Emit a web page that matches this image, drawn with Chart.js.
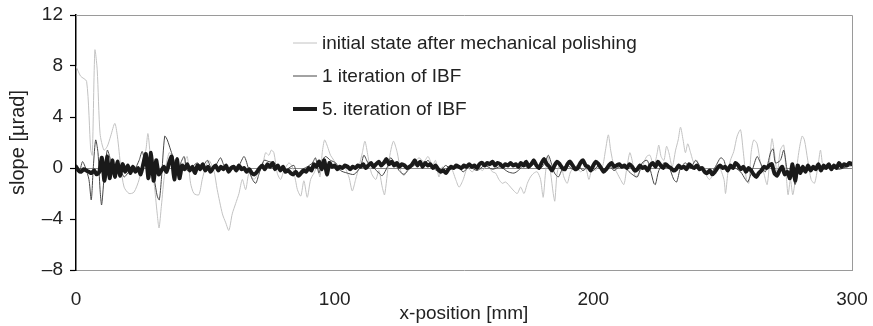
<!DOCTYPE html>
<html>
<head>
<meta charset="utf-8">
<script src="https://cdn.jsdelivr.net/npm/chart.js@4.4.1/dist/chart.umd.min.js"></script>
<style>
    html, body { margin: 0; padding: 0; background: #fff; }
    canvas { display: block; }
</style>
</head>
<body>
<canvas id="slopeChart" width="873" height="326"></canvas>
<script>
// initial state after mechanical polishing (x in mm, slope in µrad)
const initialX = [0, 1.8, 4.1, 5.7, 6.3, 7.3, 8.2, 9.3, 10.8, 12.1, 13.4, 15, 16, 17.3, 18.6, 20.5, 22.4, 24.4, 25.6, 27, 27.8, 28.9, 30.2, 31.4, 32.1, 33, 34.3, 36, 37.2, 38.5, 40.5, 41.8,
    43, 44.3, 45.6, 47.5, 48.8, 50.1, 51.4, 53.3, 54.6, 56.6, 57.9, 59.1, 60.4, 61.7, 63, 64.3, 65.6, 66.9, 68.8, 70.4, 72, 73.3, 74.6, 75.5, 76.5, 77.8, 79.1, 80.4, 82.3, 83.6, 84.9,
    85.6, 86.9, 88.1, 89.4, 90.7, 92, 93.3, 94.3, 95.2, 96.1, 97.2, 98.4, 99.7, 101.7, 103.6, 105.5, 106.8, 108.1, 109.4, 110.7, 111.7, 112.9, 114.2, 115.9, 117.1, 118.4, 119.3, 121, 122.7, 124.2, 125.5, 126.8,
    128.7, 130.7, 132.6, 134.5, 136.1, 137.8, 139, 140.3, 141.6, 142.9, 144.8, 146.8, 148.1, 149.7, 151.3, 153.2, 155.2, 157.1, 159, 161, 162.2, 163.5, 164.8, 166.1, 168, 169.3,
    170.6, 171.9, 173.2, 174.5, 175.7, 177, 178.3, 179.6, 180.6, 181.5, 182.4, 183.5, 184.5, 185.1, 186, 187.3, 188.6, 189.9, 191.2, 193.1, 195.1, 197, 198.3, 199.6, 200.9, 202.2, 203.5, 204.7, 205.8, 206.7, 208, 209.2, 210.5, 211.8,
    212.8, 214.1, 215, 216.3, 217.6, 218.9, 220.6, 221.9, 223.4, 224.7, 225.3, 226.2, 227.3, 228.3, 229.2, 230.5, 231.8, 232.8, 233.7, 234.7, 235.6, 236.5, 237.6, 238.9, 240.1, 241.4, 242.7, 244, 245, 246.6, 248.5, 250.5, 251.1, 252, 253, 254.3,
    255.6, 256.9, 257.9, 259.2, 260.1, 261, 262, 263.3, 264.6, 265.9, 267.2, 268.5, 269.1, 270, 271.1, 272.3, 273.6, 274.7, 275.3, 276.2, 277.1, 278.1, 279.4, 280.7, 281.6, 282.9, 284.2, 285.5, 286.8, 287.8, 288.5];
const initialY = [8.0, 7.2, 6.8, 1.4, 1.0, 9.25, 7.7, 2.7, 1.4, 1.7, 2.5, 3.5, 2.5, 0.1, -1.5, -2.0, -1.9, -0.9, 0.4, 1.4, 2.7, 0.6, -1.2, -3.6, -4.7, -3.0, -0.4, 1.2, 0.9, -0.4, -0.7, 0.4,
    0.9, -1.2, -2.0, -2.1, -0.9, 0.1, 0.6, -0.2, -1.7, -3.6, -4.3, -4.9, -3.6, -2.8, -2.0, -0.9, -1.7, -0.4, -0.9, -0.4, 0.1, 1.2, 1.0, 1.4, 1.2, -0.4, -0.9, -0.2, 0.4, 0.1, -1.0,
    -1.7, -2.2, -1.0, -2.3, -0.9, -0.4, 0.1, -0.7, 1.2, 2.2, 1.7, 1.0, 0.6, -0.2, 0.1, -0.7, -1.8, -0.9, 0.1, 1.2, 2.1, 0.9, -0.4, -0.9, -0.2, -1.5, -2.1, 0.6, 2.1, 1.2, -0.2, -0.6,
    0.1, 0.4, 0.8, 0.5, 0.9, 0.2, 0.6, -0.7, 0.1, -0.3, 0.1, -0.9, -1.5, -0.9, 0, -0.3, 0.1, -0.2, 0.2, -0.3, -0.4, -0.9, -1.2, -1.1, -1.5, -1.8,
    -2.0, -1.5, -2.0, -1.2, -0.7, -0.4, -0.3, -0.9, -2.3, -0.4, 0.9, -0.4, -2.0, -2.6, -0.4, 0.4, -0.7, -1.2, -0.3, 0.1, -0.3, 0, -0.9, 0.1, -0.2, 0.4, 0.1, 1.4, 2.6, 1.4, 0.1, -0.4, -0.9, -1.3,
    -0.2, 1.2, 0.6, -0.7, -0.4, 0.1, 0.9, 1.0, 0.1, 1.2, 1.8, 0.9, 0.6, 1.7, 1.2, 0.1, 1.4, 2.2, 3.2, 2.2, 1.2, 1.9, 1.2, 0.4, 0.6, -0.2, 0.1, -0.7, -0.9, -0.4, 0.1, -0.9, -2.0, -0.4, 0.6, 1.3,
    2.5, 3.0, 1.4, -0.9, -1.2, 1.2, 2.2, 1.9, 0.4, -0.4, -1.3, 1.4, 2.3, 1.2, -0.4, 1.4, 1.8, -0.9, -2.1, -0.9, -2.1, -0.9, 1.2, 2.5, 2.2, 0.6, -0.9, -1.2, 0.1, 1.4, 0.4];

// 1 iteration of IBF
const iter1X = [0, 1.2, 2.5, 3.7, 5, 5.9, 6.7, 7.6, 8.5, 9.3, 9.9, 10.8, 12.1, 13.4, 14.7, 16.6, 18.6, 20.5, 22.4, 24.4, 25.6, 27, 28.9, 30.2, 31.4, 32.2, 33, 34.3, 35.3, 36.6, 37.9, 39.2, 40.5, 41.8,
    43, 45, 46.9, 48.8, 50.8, 52.7, 54.6, 55.9, 57.2, 59.1, 61.1, 63, 65, 66.9, 68.2, 69.5, 70.7, 72.7, 74.6, 76.5, 78.5, 80.4, 82.3, 84.3,
    85.6, 86.9, 89.4, 91.4, 92.6, 93.9, 95.2, 96.5, 98.4, 100.4, 102.3, 104.9, 107.5, 110, 111.3, 112.9, 115.2, 117.1, 118.4, 120.4, 121.6, 122.9, 124.9, 126.8,
    128.7, 130.7, 132.6, 134.5, 136.1, 137.8, 140.3, 142.9, 145, 147, 149.7, 152, 155, 158, 161, 164, 167, 169.3,
    171, 173, 175, 177, 179, 181, 182.6, 184, 185, 186.5, 188, 190, 192, 194, 196, 198, 200, 202, 204, 206, 208, 210,
    211.8, 214.4, 217, 218.9, 220.8, 222.1, 223.4, 224, 225.3, 227.3, 229.2, 231.1, 232.2, 233.7, 235.6, 237.6, 239.5, 241.4, 243.4, 245.3, 247.2, 249.2, 250.5, 251.8, 253.7,
    256.9, 258.8, 259.7, 261.4, 263.3, 264.6, 266.5, 268.5, 269.5, 270.4, 272.3, 273.6, 274.7, 275.6, 277, 278, 279.5, 281.4, 284, 286.3, 289, 292, 295, 298, 300];
const iter1Y = [0.2, -0.4, 0.5, 0, -0.9, -2.5, 0.1, 2.2, 1.2, -1.7, -2.9, -0.9, 1.4, 0.6, -0.4, 0.1, -0.7, -0.3, -0.2, 0.6, 1.3, 0.1, -0.4, -0.9, -2.2, -2.5, -0.9, 2.5, 2.2, 1.4, 0.6, -0.3, 0.4, 0.9,
    -0.2, 0.1, 0.4, 0.1, 0.6, -0.2, 0.4, 0.8, 0.2, -0.3, 0, 0.2, 0.9, -0.2, -0.9, -1.2, -0.5, 0.6, 0.5, 0.4, 0.1, -0.3, 0, 0.2,
    -0.7, -0.2, 0.1, 0.4, 0.8, -0.4, 0.6, 0.9, 0.6, 0.4, -0.2, -0.4, -0.5, 0.1, 1.0, 0.4, 0, -0.4, -0.6, 0.1, 0.8, 0.5, -0.2, -0.5,
    -0.1, 0.2, 0.5, 0.3, 0.6, 0.1, -0.3, 0.2, -0.1, 0.2, -0.3, 0.1, -0.2, 0.2, -0.1, 0.1, -0.3, -0.4,
    -0.2, 0.2, 0, 0.3, -0.1, 0.3, 1.0, 0.2, -0.4, -0.7, -0.1, 0.2, -0.1, 0.2, -0.2, 0.1, -0.2, 0.2, -0.1, 0.2, -0.2, 0.1,
    0.1, -0.4, -0.7, 0.4, 0.6, -0.2, -1.2, -1.3, -0.2, 0.4, 0.1, -0.9, -1.1, 0, 0.4, 0, 0.6, 0.1, -0.2, -0.4, 0.1, 0.8, 0.6, -0.3, 0.1,
    -0.3, -0.9, -1.1, -0.2, 0.9, 0.4, -0.3, 1.2, 1.5, 0.4, 0.6, 1.4, 0.1, -0.9, -0.5, -1.3, -0.2, 0, -0.2, 0.1, -0.1, 0.1, -0.1, 0.1, 0.2];

// 5. iteration of IBF, sampled every 1 mm from 0 to 300
const iter5Step = 1;
const iter5Y = [
    0.1, -0.2, -0.3, -0.1, -0.2, -0.3, -0.4, -0.2, -0.5, -0.3,
    0.8, -1.0, 0.9, -0.8, 0.6, -0.7, 0.5, -0.6, 0.3, -0.3,
    0.2, -0.4, 0.1, -0.3, 0.0, -0.5, 0.3, 1.1, -0.8, 1.2,
    -1.0, 0.6, -0.5, -0.2, 0.1, -0.3, 0.4, 0.9, -0.9, 0.7,
    -0.8, 0.2, -0.1, 0.3, -0.2, 0.1, -0.4, 0.2, -0.1, 0.3,
    -0.2, 0.1, -0.3, 0.0, 0.2, -0.2, 0.1, -0.1, 0.2, -0.3,
    0.0, 0.1, -0.2, 0.2, -0.1, 0.0, -0.3, -0.1, -0.4, -0.5,
    -0.3, 0.0, 0.2, -0.1, 0.3, 0.1, 0.4, -0.1, 0.2, -0.2,
    0.1, -0.3, -0.2, -0.4, -0.5, -0.3, -0.6, -0.4, -0.2, -0.3,
    0.0, -0.2, 0.3, 0.1, 0.5, -0.1, 0.6, -0.5, 0.4, 0.1,
    0.2, -0.1, 0.1, 0.0, 0.2, 0.1, -0.1, 0.1, 0.0, 0.2,
    0.1, 0.3, 0.0, 0.2, 0.4, 0.1, 0.3, 0.5, 0.2, 0.4,
    0.7, 0.3, 0.5, 0.2, 0.4, 0.1, 0.3, 0.2, 0.0, 0.1,
    0.3, 0.6, 0.2, 0.5, 0.1, 0.4, 0.2, 0.3, 0.0, 0.2,
    -0.1, -0.3, -0.2, -0.4, -0.1, 0.1, 0.0, 0.2, 0.1, 0.0,
    0.2, 0.1, 0.3, 0.1, 0.2, 0.0, 0.3, 0.4, 0.2, 0.4,
    0.3, 0.5, 0.2, 0.4, 0.3, 0.1, 0.3, 0.2, 0.4, 0.2,
    0.3, 0.1, 0.4, 0.2, 0.5, 0.1, 0.3, 0.6, 0.2, 0.0,
    0.4, 0.7, 0.3, 0.1, -0.2, 0.2, 0.5, 0.3, 0.0, -0.1,
    0.3, 0.5, 0.2, -0.1, 0.0, 0.4, 0.6, 0.2, 0.1, -0.2,
    0.2, 0.5, 0.3, 0.0, -0.3, -0.1, 0.2, 0.4, 0.1, 0.2,
    0.3, 0.1, 0.2, 0.0, 0.3, 0.1, -0.2, -0.1, 0.2, 0.0,
    0.1, -0.2, 0.2, 0.4, 0.1, 0.5, 0.2, 0.0, 0.3, 0.1,
    0.0, -0.2, -0.1, 0.2, 0.0, 0.1, -0.1, 0.3, 0.1, 0.0,
    0.2, -0.1, 0.0, -0.3, -0.4, -0.2, -0.5, -0.3, 0.0, 0.2,
    0.0, 0.1, -0.2, 0.2, 0.0, 0.4, 0.2, -0.1, 0.1, -0.3,
    0.0, -0.2, -0.5, -0.7, -0.4, -0.2, 0.1, 0.0, 0.2, 0.3,
    -0.4, -0.6, -0.2, 0.1, -0.5, -0.3, -0.8, 0.3, -1.0, 0.2,
    -0.4, 0.1, -0.3, 0.2, -0.2, 0.1, -0.1, 0.3, -0.2, 0.2,
    0.0, 0.3, -0.1, 0.2, 0.0, 0.4, 0.1, 0.3, 0.2, 0.4, 0.3
];
const iter5X = iter5Y.map((_, i) => i * iter5Step);

const seriesLabels = ['initial state after mechanical polishing', '1 iteration of IBF', '5. iteration of IBF'];
const xTicks = [0, 100, 200, 300];
const yTicks = [-8, -4, 0, 4, 8, 12];

const FONT = '"Liberation Sans", Arial, Helvetica, sans-serif';

function toPoints(xs, ys) {
    return xs.map((x, i) => ({ x: x, y: ys[i] }));
}

// top/right frame and the in-plot legend
const framePlugin = {
    id: 'frame',
    afterDatasetsDraw(chart) {
        const { ctx, chartArea } = chart;
        ctx.save();
        ctx.strokeStyle = '#9a9a9a';
        ctx.lineWidth = 1;
        ctx.beginPath();
        ctx.moveTo(chartArea.left, chartArea.top + 0.5);
        ctx.lineTo(chartArea.right + 0.5, chartArea.top + 0.5);
        ctx.lineTo(chartArea.right + 0.5, chartArea.bottom);
        ctx.stroke();

        // legend, in the order of the original figure
        const lx = chartArea.left + 217;
        const ly = chartArea.top + 28;
        const rowGap = 33;
        ctx.font = '19px ' + FONT;
        ctx.textBaseline = 'middle';
        ctx.textAlign = 'left';
        chart.data.datasets.forEach((ds, row) => {
            const y = ly + row * rowGap;
            ctx.strokeStyle = ds.borderColor;
            ctx.lineWidth = ds.borderWidth;
            ctx.beginPath();
            ctx.moveTo(lx, y);
            ctx.lineTo(lx + 24, y);
            ctx.stroke();
            ctx.fillStyle = '#222';
            ctx.fillText(ds.label, lx + 29, y + 1);
        });
        ctx.restore();
    }
};

const ctx = document.getElementById('slopeChart').getContext('2d');

new Chart(ctx, {
    type: 'line',
    data: {
        datasets: [
            {
                label: seriesLabels[0],
                data: toPoints(initialX, initialY),
                borderColor: '#c2c2c2',
                borderWidth: 1,
                tension: 0.25,
                order: 3,
            },
            {
                label: seriesLabels[1],
                data: toPoints(iter1X, iter1Y),
                borderColor: '#474747',
                borderWidth: 1,
                tension: 0.25,
                order: 2,
            },
            {
                label: seriesLabels[2],
                data: toPoints(iter5X, iter5Y),
                borderColor: '#1a1a1a',
                borderWidth: 4,
                tension: 0.2,
                order: 1,
            },
        ],
    },
    options: {
        responsive: false,
        animation: false,
        devicePixelRatio: 1,
        elements: {
            point: { radius: 0 },
            line: { borderJoinStyle: 'round', borderCapStyle: 'round' },
        },
        layout: {
            padding: { top: 15, right: 21, left: 0, bottom: 0 },
        },
        plugins: {
            legend: { display: false },
            tooltip: { enabled: false },
        },
        scales: {
            x: {
                type: 'linear',
                min: 0,
                max: 300,
                afterBuildTicks: (axis) => { axis.ticks = xTicks.map(v => ({ value: v })); },
                afterFit: (axis) => { axis.height = 56; axis.paddingLeft = 0; axis.paddingRight = 0; },
                grid: { display: false },
                border: { display: true, color: '#9a9a9a', width: 1 },
                ticks: {
                    padding: 10,
                    color: '#222',
                    maxRotation: 0,
                    font: { family: FONT, size: 19 },
                },
                title: {
                    display: true,
                    text: 'x-position [mm]',
                    color: '#222',
                    padding: { top: 0, bottom: 1 },
                    font: { family: FONT, size: 19 },
                },
            },
            y: {
                min: -8,
                max: 12,
                afterBuildTicks: (axis) => { axis.ticks = yTicks.map(v => ({ value: v })); },
                afterFit: (axis) => { axis.width = 76; axis.paddingTop = 0; axis.paddingBottom = 0; },
                grid: {
                    drawOnChartArea: true,
                    color: (c) => (c.tick && c.tick.value === 0 ? '#8a8a8a' : 'rgba(0,0,0,0)'),
                    lineWidth: 1,
                    tickLength: 6,
                    tickColor: '#000',
                    tickWidth: 1.2,
                },
                border: { display: true, color: '#000', width: 1.5 },
                ticks: {
                    padding: 7,
                    color: '#222',
                    font: { family: FONT, size: 19 },
                    callback: (v) => (v < 0 ? '\u2013' + Math.abs(v) : String(v)),
                },
                title: {
                    display: true,
                    text: 'slope [\u00b5rad]',
                    color: '#222',
                    padding: { top: 6, bottom: 0 },
                    font: { family: FONT, size: 20 },
                },
            },
        },
    },
    plugins: [framePlugin],
});
</script>
</body>
</html>
